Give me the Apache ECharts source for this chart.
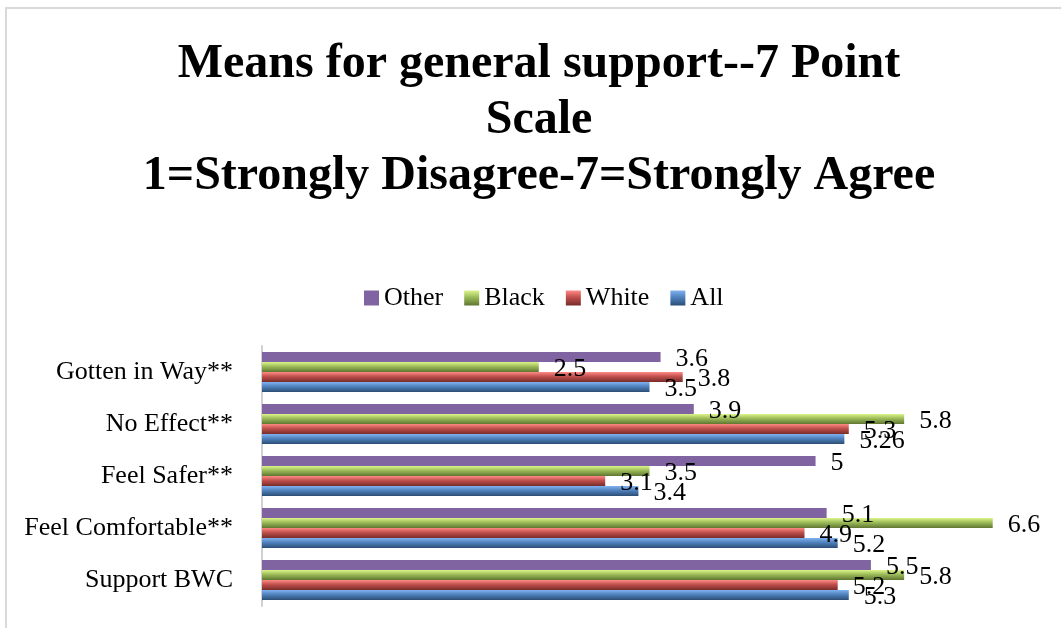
<!DOCTYPE html>
<html>
<head>
<meta charset="utf-8">
<script src="https://cdn.jsdelivr.net/npm/echarts@6/dist/echarts.min.js"></script>
<style>
  html, body { margin: 0; padding: 0; background: #fff; }
  #main { width: 1061px; height: 628px; }
</style>
</head>
<body>
<div id="main"></div>
<script>
// categories bottom -> top
const categories = ['Support BWC', 'Feel Comfortable**', 'Feel Safer**', 'No Effect**', 'Gotten in Way**'];
const allVals   = [5.3, 5.2, 3.4, 5.26, 3.5];
const whiteVals = [5.2, 4.9, 3.1, 5.3, 3.8];
const blackVals = [5.8, 6.6, 3.5, 5.8, 2.5];
const otherVals = [5.5, 5.1, 5, 3.9, 3.6];

const chart = echarts.init(document.getElementById('main'), null, { renderer: 'canvas' });

const serif = '"Liberation Serif", "Times New Roman", serif';

// 3D-ish vertical gradient like the office bars
function shade(top, mid, bottom) {
  return new echarts.graphic.LinearGradient(0, 0, 0, 1, [
    { offset: 0, color: top },
    { offset: 0.45, color: mid },
    { offset: 1, color: bottom }
  ]);
}

function barSeries(name, data, color) {
  return {
    name: name,
    type: 'bar',
    data: data,
    barWidth: 10,
    barGap: '0%',
    itemStyle: { color: color },
    label: {
      show: true,
      position: 'right',
      distance: 15,
      offset: [0, 2],
      color: '#000',
      fontFamily: serif,
      fontSize: 26
    }
  };
}

const option = {
  backgroundColor: '#fff',
  animation: false,
  title: {
    text: 'Means for general support--7 Point\nScale\n1=Strongly Disagree-7=Strongly Agree',
    left: 534,
    top: 32,
    textAlign: 'center',
    textStyle: {
      fontFamily: serif,
      fontWeight: 'bold',
      fontSize: 48,
      lineHeight: 56,
      color: '#000'
    }
  },
  graphic: [{
    type: 'rect',
    shape: { x: 6, y: 8, width: 1100, height: 700 },
    style: { fill: 'none', stroke: '#d9d9d9', lineWidth: 2 },
    silent: true
  }],
  legend: {
    data: ['Other', 'Black', 'White', 'All'],
    left: 359,
    top: 280,
    icon: 'rect',
    itemWidth: 15,
    itemHeight: 15,
    itemGap: 21,
    textStyle: { fontFamily: serif, fontSize: 26, color: '#000' }
  },
  grid: { left: 262, right: 24, top: 346, bottom: 22, containLabel: false },
  xAxis: {
    type: 'value',
    min: 0,
    max: 7,
    show: false
  },
  yAxis: {
    type: 'category',
    data: categories,
    axisLine: { lineStyle: { color: '#d0d0d0', width: 2 } },
    axisTick: { show: false },
    axisLabel: { fontFamily: serif, fontSize: 26, color: '#000', margin: 29 }
  },
  // first series sits at the top of each band
  series: [
    barSeries('Other', otherVals, '#8064a2'),
    barSeries('Black', blackVals, shade('#dcf58a', '#9bbb59', '#5f7530')),
    barSeries('White', whiteVals, shade('#ff8a86', '#c0504d', '#772c2a')),
    barSeries('All', allVals, shade('#7fb2ef', '#4f81bd', '#2c4d75'))
  ]
};

chart.setOption(option);
</script>
</body>
</html>
